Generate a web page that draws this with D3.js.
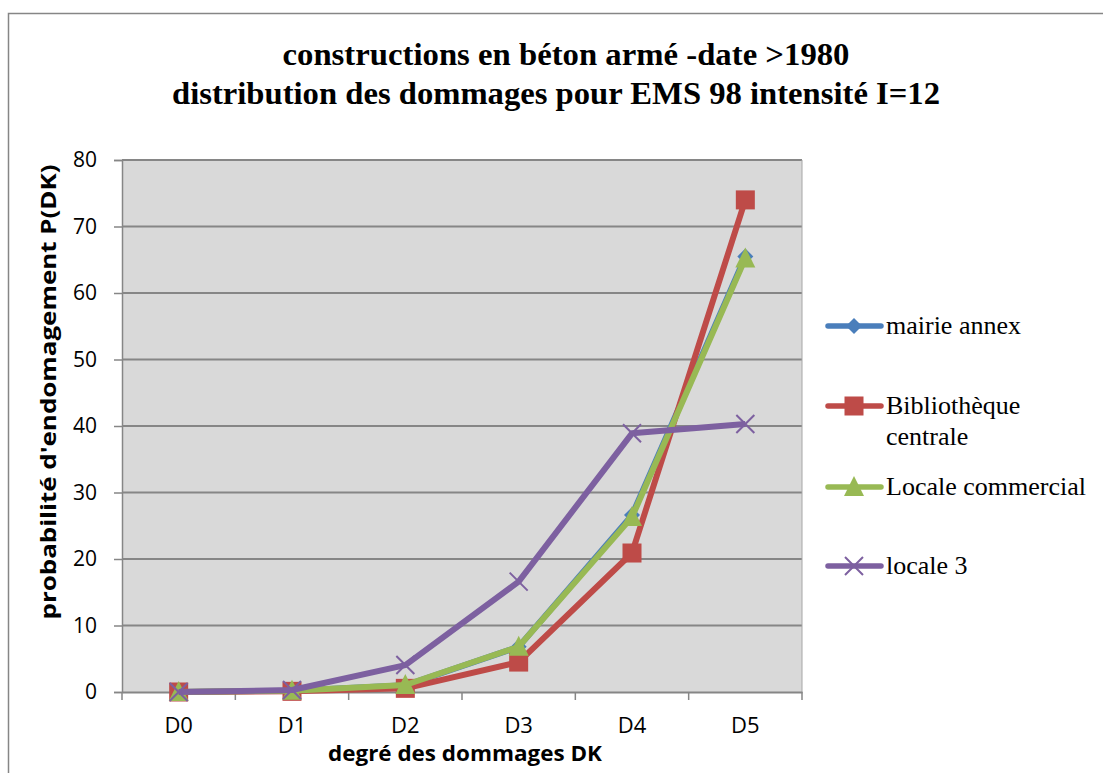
<!DOCTYPE html>
<html><head><meta charset="utf-8">
<script src="https://cdn.jsdelivr.net/npm/d3@7"></script>
<style>body{margin:0;background:#fff}svg{display:block}</style>
</head><body>
<script>
const categories = ["D0","D1","D2","D3","D4","D5"];
const mairieAnnex = [0, 0.2, 1.0, 6.8, 26.6, 65.5];
const bibliotheque = [0, 0.1, 0.55, 4.5, 20.9, 74.0];
const localeCommercial = [0, 0.2, 1.05, 6.8, 26.3, 65.2];
const locale3 = [0, 0.3, 4.05, 16.6, 38.9, 40.3];
const seriesNames = ["mairie annex", "Bibliothèque centrale", "Locale commercial", "locale 3"];
const yTicks = [0,10,20,30,40,50,60,70,80];
const titleLines = ["constructions en béton armé -date >1980", "distribution des dommages pour EMS 98 intensité I=12"];

const W = 1103, H = 773;
const serif = "'Liberation Serif', 'Times New Roman', 'DejaVu Serif', serif";
const sans = "'Open Sans', 'Noto Sans', sans-serif";
const svg = d3.select("body").append("svg").attr("width", W).attr("height", H);
svg.append("rect").attr("x",8.5).attr("y",13.5).attr("width",W).attr("height",H).attr("fill","#fff").attr("stroke","#868686").attr("stroke-width",1.5);

const pl = 122, pr = 802, pt = 160, pb = 692;
const x = d3.scaleBand().domain(categories).range([pl, pr]);
const y = d3.scaleLinear().domain([0,80]).range([pb, pt]);

svg.append("rect").attr("x",pl).attr("y",pt).attr("width",pr-pl).attr("height",pb-pt).attr("fill","#d9d9d9");
svg.append("g").selectAll("line").data(yTicks.slice(1)).join("line")
  .attr("x1",pl).attr("x2",pr).attr("y1",d=>y(d)).attr("y2",d=>y(d))
  .attr("stroke","#868686").attr("stroke-width",2);
svg.append("line").attr("x1",pr).attr("x2",pr).attr("y1",pt).attr("y2",pb).attr("stroke","#a6a6a6").attr("stroke-width",1);

const yAxis = d3.axisLeft(y).tickValues(yTicks).tickSize(8).tickPadding(17);
const gy = svg.append("g").attr("transform",`translate(${pl},0)`).call(yAxis);
gy.select(".domain").attr("stroke","#868686").attr("stroke-width",1.5);
gy.selectAll(".tick line").attr("stroke","#868686").attr("stroke-width",1.5);
gy.selectAll("text").attr("font-family",sans).attr("font-size",21).attr("fill","#000");

const xAxis = d3.axisBottom(x).tickSize(0).tickPadding(25);
const gx = svg.append("g").attr("transform",`translate(0,${pb})`).call(xAxis);
gx.select(".domain").attr("stroke","#868686").attr("stroke-width",2);
gx.selectAll("text").attr("font-family",sans).attr("font-size",22).attr("fill","#000");
const boundaries = categories.map(c=>x(c)).concat([pr]);
gx.selectAll(".bt").data(boundaries).join("line").attr("class","bt")
  .attr("x1",d=>d).attr("x2",d=>d).attr("y1",0).attr("y2",8).attr("stroke","#868686").attr("stroke-width",1.5);

svg.append("text").attr("x",566).attr("y",65).attr("text-anchor","middle")
  .attr("font-family",serif).attr("font-weight","bold").attr("font-size",31)
  .attr("textLength",567).attr("lengthAdjust","spacingAndGlyphs")
  .text(titleLines[0]);
svg.append("text").attr("x",556).attr("y",104).attr("text-anchor","middle")
  .attr("font-family",serif).attr("font-weight","bold").attr("font-size",31)
  .attr("textLength",768).attr("lengthAdjust","spacingAndGlyphs")
  .text(titleLines[1]);
svg.append("text").attr("transform","translate(56,392) rotate(-90)").attr("text-anchor","middle")
  .attr("font-family",sans).attr("font-weight","bold").attr("font-size",22)
  .attr("textLength",455).attr("lengthAdjust","spacingAndGlyphs")
  .text("probabilité d'endomagement P(DK)");
svg.append("text").attr("x",465).attr("y",761).attr("text-anchor","middle")
  .attr("font-family",sans).attr("font-weight","bold").attr("font-size",22)
  .attr("textLength",274).attr("lengthAdjust","spacingAndGlyphs")
  .text("degré des dommages DK");

const colors = ["#4a7ebb","#be4b48","#98b954","#7d60a0"];
const datasets = [mairieAnnex, bibliotheque, localeCommercial, locale3];
const markers = ["diamond","square","triangle","x"];
const cx = c => x(c) + x.bandwidth()/2;

function drawMarker(g, type, color, px, py, s) {
  if (type==="diamond") {
    g.append("path").attr("d",`M${px},${py-s}L${px+s},${py}L${px},${py+s}L${px-s},${py}Z`).attr("fill",color);
  } else if (type==="square") {
    g.append("rect").attr("x",px-s).attr("y",py-s).attr("width",2*s).attr("height",2*s).attr("fill",color);
  } else if (type==="triangle") {
    g.append("path").attr("d",`M${px},${py-s-1}L${px+s},${py+s-1}L${px-s},${py+s-1}Z`).attr("fill",color);
  } else {
    g.append("path").attr("d",`M${px-s},${py-s}L${px+s},${py+s}M${px-s},${py+s}L${px+s},${py-s}`).attr("stroke",color).attr("stroke-width",2);
  }
}
const msize = [8, 9.5, 10, 9];

datasets.forEach((data,i)=>{
  const g = svg.append("g");
  const line = d3.line().x((d,j)=>cx(categories[j])).y(d=>y(d));
  g.append("path").datum(data).attr("d",line).attr("fill","none").attr("stroke",colors[i]).attr("stroke-width",6).attr("stroke-linejoin","round");
  data.forEach((v,j)=>drawMarker(g, markers[i], colors[i], cx(categories[j]), y(v), msize[i]));
});

const legY = [326, 406, 487, 566];
datasets.forEach((d,i)=>{
  const g = svg.append("g");
  g.append("line").attr("x1",828).attr("x2",881).attr("y1",legY[i]).attr("y2",legY[i]).attr("stroke",colors[i]).attr("stroke-width",5.5).attr("stroke-linecap","round");
  drawMarker(g, markers[i], colors[i], 854, legY[i], msize[i]);
});
const legText = [["mairie annex"],["Bibliothèque","centrale"],["Locale commercial"],["locale 3"]];
legText.forEach((lines,i)=>{
  lines.forEach((t,k)=>{
    svg.append("text").attr("x",886).attr("y",legY[i]+8+k*31)
      .attr("font-family",serif).attr("font-size",26).text(t);
  });
});
</script>
</body></html>
